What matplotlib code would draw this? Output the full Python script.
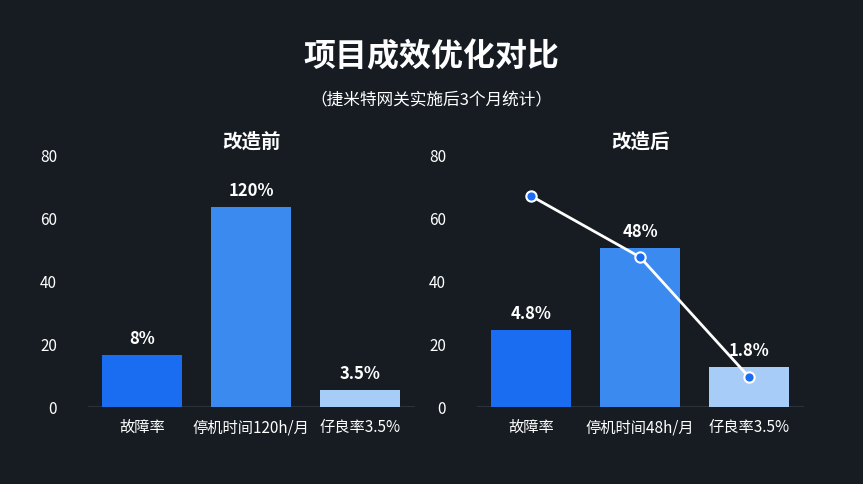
import matplotlib
matplotlib.use("Agg")
import matplotlib.pyplot as plt

plt.rcParams['font.family'] = ['Noto Sans CJK SC', 'DejaVu Sans']

cats_before = ["故障率", "停机时间120h/月", "仔良率3.5%"]
vals_before = [16.5, 63.5, 5.4]
labels_before = ["8%", "120%", "3.5%"]
cats_after = ["故障率", "停机时间48h/月", "仔良率3.5%"]
vals_after = [24.4, 50.5, 12.7]
labels_after = ["4.8%", "48%", "1.8%"]
line_after = [67, 47.6, 9.5]
colors = ["#1a6cf0", "#3a8af0", "#a8ccf8"]
yticks = [0, 20, 40, 60, 80]

W, H = 863, 485
fig = plt.figure(figsize=(W/100, H/100), dpi=100)
fig.patch.set_facecolor("#161c22")

fig.text(431/W, 1-57/H, "项目成效优化对比", color="white", fontsize=23, fontweight="bold", ha="center", va="center")
fig.text(431/W, 1-101/H, "（捷米特网关实施后3个月统计）", color="white", fontsize=12, ha="center", va="center")

def panel(x0, title, cats, vals, labels, line=None):
    ax = fig.add_axes([x0/W, 1-408/H, 327/W, 252/H])
    ax.set_facecolor("none")
    x = list(range(len(cats)))
    ax.bar(x, vals, width=0.74, color=colors, zorder=2)
    for i, (v, l) in enumerate(zip(vals, labels)):
        ax.text(i, v + 2.5, l, color="white", fontsize=12, fontweight="bold", ha="center", va="bottom", zorder=4)
    if line is not None:
        ax.plot(x, line, color="white", lw=2, zorder=3)
        ax.scatter(x, line, s=55, color="#1a6cf0", edgecolor="white", linewidth=1.5, zorder=5)
    ax.set_xlim(-0.5, 2.5)
    ax.set_ylim(0, 80)
    ax.set_yticks(yticks)
    ax.set_xticks(x)
    ax.set_xticklabels(cats, color="white", fontsize=11)
    ax.tick_params(axis="y", colors="white", labelsize=11, length=0, pad=22)
    ax.tick_params(axis="x", length=0, pad=8)
    for s in ax.spines.values():
        s.set_visible(False)
    ax.axhline(0, color="#8a9099", lw=1, zorder=1)
    ax.set_title(title, color="white", fontsize=14, fontweight="bold", pad=6)
    return ax

panel(87.5, "改造前", cats_before, vals_before, labels_before)
panel(476.5, "改造后", cats_after, vals_after, labels_after, line_after)

fig.savefig("out.png", dpi=100, facecolor=fig.get_facecolor())
